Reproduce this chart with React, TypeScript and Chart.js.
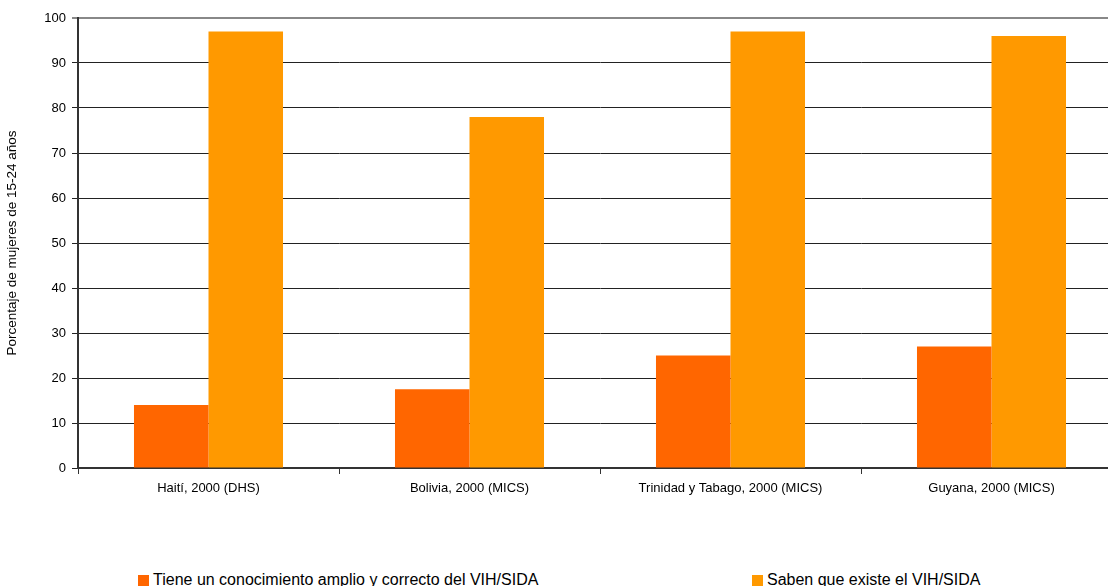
import React, { useEffect, useRef } from "react";
import { Chart, registerables } from "chart.js";

Chart.register(...registerables);

const categories = [
  "Haití, 2000 (DHS)",
  "Bolivia, 2000 (MICS)",
  "Trinidad y Tabago, 2000 (MICS)",
  "Guyana, 2000 (MICS)",
];
const conocimientoAmplio = [14, 17.5, 25, 27];
const sabenQueExiste = [97, 78, 97, 96];
const seriesNames = [
  "Tiene un conocimiento amplio y correcto del VIH/SIDA",
  "Saben que existe el VIH/SIDA",
];
const yTitle = "Porcentaje de mujeres de 15-24 años";

const RED = "#FF6600";
const ORANGE = "#FF9900";
const FONT = "'Liberation Sans', Arial, Helvetica, sans-serif";

export default function App() {
  const ref = useRef<HTMLCanvasElement | null>(null);

  useEffect(() => {
    if (!ref.current) return;
    const chart = new Chart(ref.current, {
      type: "bar",
      data: {
        labels: categories,
        datasets: [
          {
            label: seriesNames[0],
            data: conocimientoAmplio,
            backgroundColor: RED,
            borderWidth: 0,
            categoryPercentage: 0.571,
            barPercentage: 1,
          },
          {
            label: seriesNames[1],
            data: sabenQueExiste,
            backgroundColor: ORANGE,
            borderWidth: 0,
            categoryPercentage: 0.571,
            barPercentage: 1,
          },
        ],
      },
      options: {
        responsive: false,
        animation: false,
        layout: { padding: { top: 18, left: 0, right: 0, bottom: 0 } },
        plugins: {
          legend: { display: false },
          tooltip: { enabled: false },
        },
        scales: {
          x: {
            grid: {
              offset: true,
              drawOnChartArea: false,
              tickLength: 6,
              color: "#333",
              lineWidth: 1,
            },
            border: { color: "#333", width: 2 },
            ticks: {
              color: "#000",
              padding: 7,
              font: { family: FONT, size: 13 },
              maxRotation: 0,
              autoSkip: false,
            },
            afterFit: (scale: any) => {
              scale.height = 40;
            },
          },
          y: {
            min: 0,
            max: 100,
            ticks: {
              stepSize: 10,
              color: "#000",
              padding: 6,
              font: { family: FONT, size: 13 },
            },
            grid: {
              tickLength: 6,
              color: (ctx: any) => (ctx.tick && ctx.tick.value === 100 ? "#888" : "#222"),
              lineWidth: (ctx: any) => (ctx.tick && ctx.tick.value === 100 ? 2 : 1),
            },
            border: { color: "#333", width: 2 },
            title: {
              display: true,
              text: yTitle,
              color: "#000",
              font: { family: FONT, size: 13.5 },
              padding: { top: 4, bottom: 4 },
            },
            afterFit: (scale: any) => {
              scale.width = 78;
            },
          },
        },
      },
    });
    return () => chart.destroy();
  }, []);

  const legendText: React.CSSProperties = {
    position: "absolute",
    top: 572,
    fontFamily: FONT,
    fontSize: 16,
    lineHeight: "16px",
    color: "#000",
    whiteSpace: "nowrap",
  };
  const box = (left: number, color: string): React.CSSProperties => ({
    position: "absolute",
    left,
    top: 575,
    width: 11,
    height: 11,
    background: color,
  });

  return (
    <div
      style={{
        position: "fixed",
        left: 0,
        top: 0,
        width: 1108,
        height: 586,
        overflow: "hidden",
        background: "#fff",
      }}
    >
      <canvas ref={ref} width={1122} height={508} style={{ display: "block" }} />
      <div style={box(138, RED)} />
      <div style={{ ...legendText, left: 153 }}>{seriesNames[0]}</div>
      <div style={box(752, ORANGE)} />
      <div style={{ ...legendText, left: 767 }}>{seriesNames[1]}</div>
    </div>
  );
}
